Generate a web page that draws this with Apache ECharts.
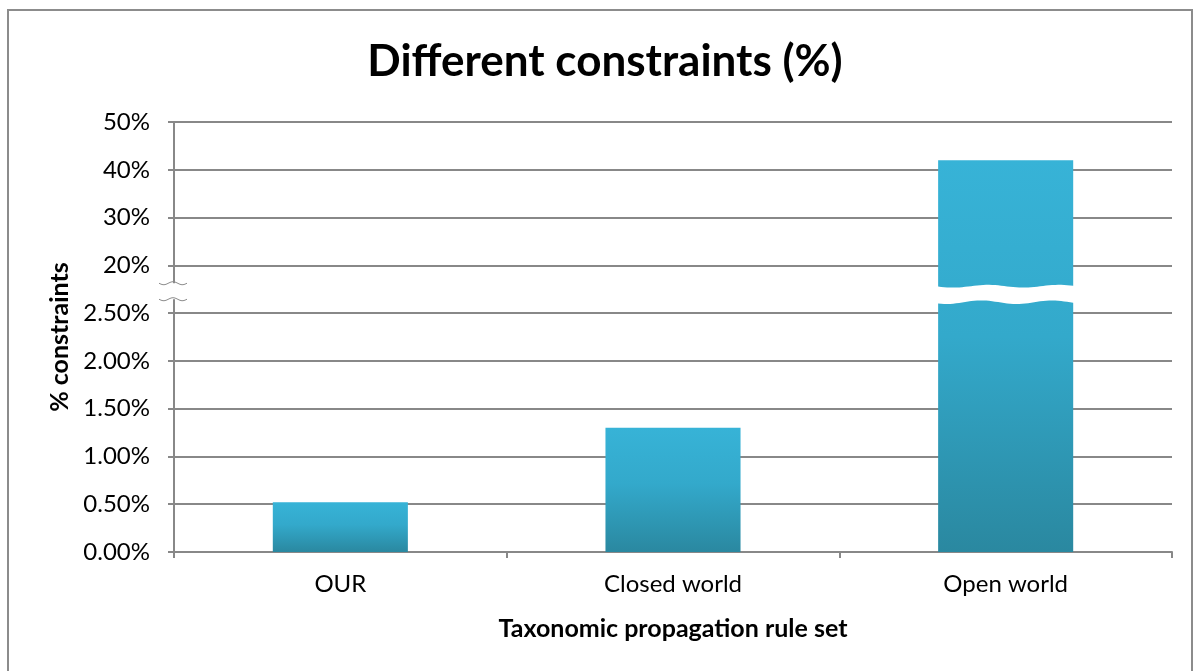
<!DOCTYPE html>
<html>
<head>
<meta charset="utf-8">
<script src="https://cdn.jsdelivr.net/npm/echarts@6/dist/echarts.min.js"></script>
<style>
  html, body { margin: 0; padding: 0; background: #ffffff; }
  #chart { width: 1195px; height: 671px; }
</style>
</head>
<body>
<div id="chart"></div>
<script>
// Share of constraints per rule set, in percent
const categories = ['OUR', 'Closed world', 'Open world'];
const constraintPct = [0.52, 1.30, 42];

// Broken value scale: 0–2.5 % in 0.5 % steps, then 20–50 % in 10 % steps
const yTickLabels = ['0.00%', '0.50%', '1.00%', '1.50%', '2.00%', '2.50%', '20%', '30%', '40%', '50%'];
const lowerStep = 0.5;
const lowerSteps = 5;
const upperStart = 20;
const upperStep = 10;

function toAxis(v) {
  if (v <= lowerStep * lowerSteps) return v / lowerStep;
  return lowerSteps + 1 + (v - upperStart) / upperStep;
}
const breakAt = lowerSteps + 0.5;

const FONT = 'Lato';
const GRID_COLOR = '#888888';

const chart = echarts.init(document.getElementById('chart'), null, { renderer: 'canvas' });

chart.setOption({
  animation: false,
  backgroundColor: '#ffffff',
  grid: { left: 174, right: 23, top: 122, bottom: 119, containLabel: false },
  xAxis: {
    type: 'category',
    data: categories,
    name: 'Taxonomic propagation rule set',
    nameLocation: 'middle',
    nameGap: 64,
    nameTextStyle: { fontFamily: FONT, fontWeight: 'bold', fontSize: 25, color: '#000' },
    axisLine: { lineStyle: { color: GRID_COLOR, width: 2 } },
    axisTick: { show: true, alignWithLabel: false, length: 6, lineStyle: { color: GRID_COLOR, width: 2 } },
    axisLabel: { fontFamily: FONT, fontSize: 24, color: '#000', margin: 20 },
    splitLine: { show: false }
  },
  yAxis: {
    type: 'value',
    min: 0,
    max: yTickLabels.length - 1,
    interval: 1,
    name: '% constraints',
    nameLocation: 'middle',
    nameGap: 102,
    nameRotate: 90,
    nameTextStyle: { fontFamily: FONT, fontWeight: 'bold', fontSize: 25, color: '#000' },
    axisLine: { show: true, lineStyle: { color: GRID_COLOR, width: 2 } },
    axisTick: { show: true, length: 6, lineStyle: { color: GRID_COLOR, width: 2 } },
    axisLabel: {
      fontFamily: FONT, fontSize: 24, color: '#000', margin: 24,
      formatter: (v) => yTickLabels[v] ?? ''
    },
    splitLine: { show: true, lineStyle: { color: GRID_COLOR, width: 2 } }
  },
  series: [{
    type: 'bar',
    data: constraintPct.map(toAxis),
    barWidth: '40.6%',
    itemStyle: {
      color: new echarts.graphic.LinearGradient(0, 0, 0, 1, [
        { offset: 0, color: '#37b3d7' },
        { offset: 0.45, color: '#33a9cb' },
        { offset: 1, color: '#2a88a0' }
      ]),
      shadowBlur: 6,
      shadowColor: 'rgba(0,0,0,0.35)'
    }
  }]
});

// Break marks: squiggle on the value axis and a white wavy band across the tallest bar
function buildBreaks() {
  const x0 = chart.convertToPixel({ xAxisIndex: 0 }, 0);
  const catW = chart.convertToPixel({ xAxisIndex: 0 }, 1) - x0;
  const ax = x0 - catW / 2;
  const yb = chart.convertToPixel({ yAxisIndex: 0 }, breakAt);

  const tallest = constraintPct.indexOf(Math.max(...constraintPct));
  const cx = chart.convertToPixel({ xAxisIndex: 0 }, tallest);
  const half = catW * 0.406 / 2 + 3;

  const top = [], bottom = [];
  for (let x = cx - half; x <= cx + half + 0.1; x += 3) {
    const t = (x - (cx - half)) / (2 * half);
    top.push([x, yb - 3 + 1.4 * Math.sin(t * Math.PI * 4)]);
    bottom.push([x, yb + 13 + 1.8 * Math.sin(t * Math.PI * 4 + 0.6)]);
  }
  const band = top.concat(bottom.reverse());

  const waveLine = (y0, amp, phase) => {
    const pts = [];
    for (let x = ax - 15; x <= ax + 13; x += 1) {
      const t = (x - (ax - 15)) / 28;
      pts.push([x, y0 + amp * Math.sin(t * Math.PI * 3 + phase)]);
    }
    return pts;
  };

  chart.setOption({
    graphic: [
      {
        type: 'rect', silent: true, z: 0,
        shape: { x: 8, y: 10, width: 1184, height: 680 },
        style: { fill: 'none', stroke: '#8c8c8c', lineWidth: 2 }
      },
      {
        type: 'text', silent: true, z: 10,
        x: 605, y: 62,
        style: {
          text: 'Different constraints (%)',
          fontFamily: FONT, fontWeight: 'bold', fontSize: 44, fill: '#000',
          textAlign: 'center', textVerticalAlign: 'middle'
        }
      },
      {
        type: 'polygon', silent: true, z: 50,
        shape: { points: band },
        style: { fill: '#ffffff' }
      },
      {
        type: 'rect', silent: true, z: 50,
        shape: { x: ax - 4, y: yb - 6, width: 8, height: 16 },
        style: { fill: '#ffffff' }
      },
      {
        type: 'polyline', silent: true, z: 51,
        shape: { points: waveLine(yb - 6, 1.5, 0) },
        style: { stroke: '#8c8c8c', lineWidth: 1, fill: null }
      },
      {
        type: 'polyline', silent: true, z: 51,
        shape: { points: waveLine(yb + 10, 1.5, 0) },
        style: { stroke: '#8c8c8c', lineWidth: 1, fill: null }
      }
    ]
  });
}
buildBreaks();
</script>
</body>
</html>
